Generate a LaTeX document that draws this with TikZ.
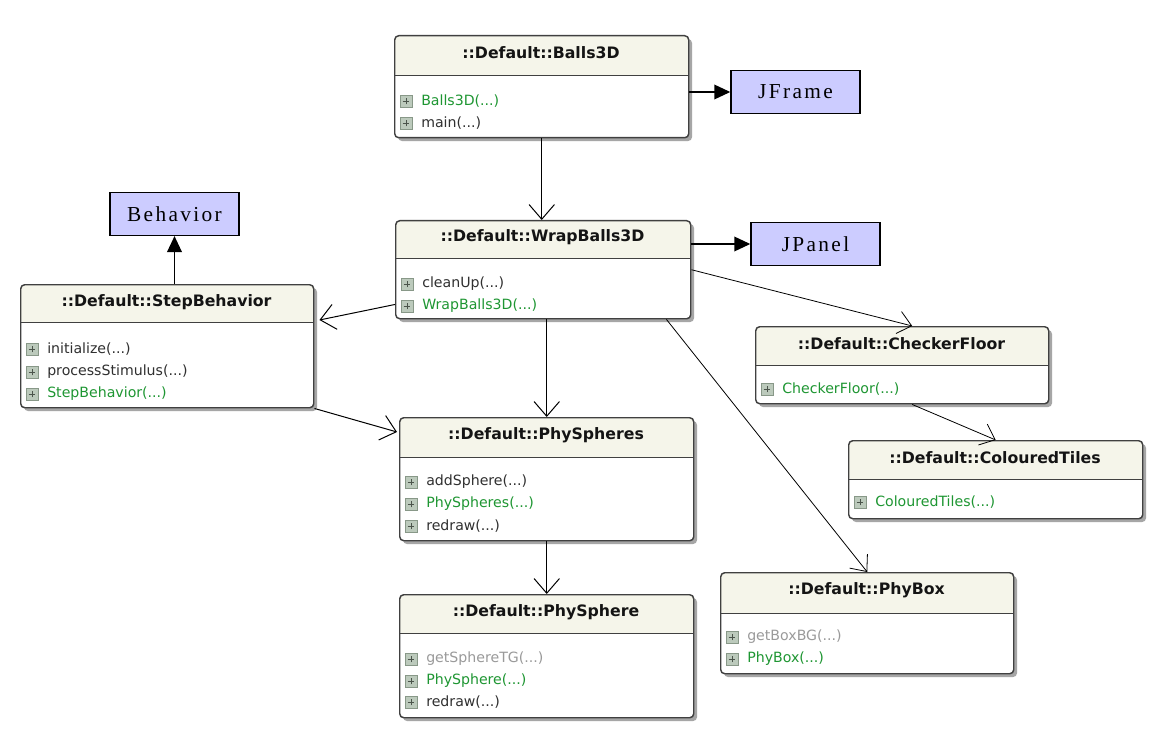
\documentclass[tikz,border=0pt]{standalone}
\usepackage{fontspec}
\setmainfont{Liberation Serif}
\newfontfamily\umlfont{DejaVu Sans}
\usetikzlibrary{arrows.meta,shadows,calc}

\definecolor{cream}{HTML}{F5F5EA}
\definecolor{boxline}{HTML}{404040}
\definecolor{okgreen}{RGB}{30,150,50}
\definecolor{memgray}{HTML}{303030}
\definecolor{dimgray}{HTML}{9A9A9A}
\definecolor{lav}{HTML}{CCCCFF}
\definecolor{iconfill}{HTML}{BCCABC}
\definecolor{iconline}{HTML}{889888}

\newcommand\umlbox[6]{%
  \pgfmathsetmacro\bw{(#4-#2)*0.75}%
  \pgfmathsetmacro\bh{(#5-#3)*0.75}%
  \pgfmathsetmacro\hh{(#6-#3)*0.75}%
  \node[umlclass, minimum width=\bw pt, minimum height=\bh pt,
    path picture={\fill[cream] (path picture bounding box.north west) rectangle ([yshift=-\hh pt]path picture bounding box.north east);
      \draw[boxline, line width=1.1pt] ([yshift=-\hh pt]path picture bounding box.north west) -- ([yshift=-\hh pt]path picture bounding box.north east);}
  ] (#1) at (#2,#3) {};
}
\newcommand\member[5]{%
  \node[icon] (#1i) at (#2+12,#3) {};
  \node[member, text=#4, anchor=west] (#1) at (#2+27,#3) {#5};
}

\begin{document}
\begin{tikzpicture}[x=0.75pt,y=-0.75pt,
  umlclass/.style={draw=boxline, line width=1.1pt, fill=white, rounded corners=3pt,
    anchor=north west, inner sep=0pt,
    drop shadow={shadow xshift=2.5pt, shadow yshift=-2.5pt, fill=black!35, opacity=1}},
  ctitle/.style={font=\umlfont\bfseries\fontsize{11.8}{13}\selectfont, text=black!92, inner sep=0pt},
  member/.style={font=\umlfont\fontsize{10.6}{12}\selectfont, inner sep=0pt},
  icon/.style={draw=iconline, fill=iconfill, minimum size=9pt, inner sep=0pt, line width=0.7pt,
    path picture={\draw[iconline!55!black, line width=0.7pt]
      ([xshift=-2.6pt]path picture bounding box.center) -- ([xshift=2.6pt]path picture bounding box.center)
      ([yshift=-2.6pt]path picture bounding box.center) -- ([yshift=2.6pt]path picture bounding box.center);}},
  ext/.style={draw=black, fill=lav, line width=1.1pt, minimum width=96.75pt, minimum height=32pt,
    inner sep=0pt, font=\fontsize{16}{18}\selectfont\addfontfeature{LetterSpace=11}},
  dep/.style={draw=black, line width=0.75pt, -{Straight Barb[length=11pt,width=19pt]}},
  thin/.style={draw=black, line width=0.6pt, -{Straight Barb[length=10pt,width=17pt]}},
  gen/.style={draw=black, line width=1.1pt, -{Triangle[length=12pt,width=11pt]}}
]
\fill[white] (0,0) rectangle (1157,738);

% classes
\umlbox{balls}{394}{35}{688}{137}{75}
\node[ctitle] (ballsT) at (541,53) {::Default::Balls3D};
\member{ballsA}{394}{101}{okgreen}{Balls3D(...)}
\member{ballsB}{394}{123}{memgray}{main(...)}

\umlbox{wrap}{395}{220}{690}{318}{258}
\node[ctitle] (wrapT) at (542.5,237) {::Default::WrapBalls3D};
\member{wrapA}{395}{284}{memgray}{cleanUp(...)}
\member{wrapB}{395}{306}{okgreen}{WrapBalls3D(...)}

\umlbox{step}{20}{284}{313}{407}{322}
\node[ctitle] (stepT) at (166.5,302) {::Default::StepBehavior};
\member{stepA}{20}{349}{memgray}{initialize(...)}
\member{stepB}{20}{372}{memgray}{processStimulus(...)}
\member{stepC}{20}{394}{okgreen}{StepBehavior(...)}

\umlbox{spheres}{399}{417}{693}{540}{457}
\node[ctitle] (spheresT) at (546,435) {::Default::PhySpheres};
\member{spheresA}{399}{482}{memgray}{addSphere(...)}
\member{spheresB}{399}{504}{okgreen}{PhySpheres(...)}
\member{spheresC}{399}{526}{memgray}{redraw(...)}

\umlbox{sphere}{399}{594}{693}{717}{633}
\node[ctitle] (sphereT) at (546,612) {::Default::PhySphere};
\member{sphereA}{399}{659}{dimgray}{getSphereTG(...)}
\member{sphereB}{399}{681}{okgreen}{PhySphere(...)}
\member{sphereC}{399}{702}{memgray}{redraw(...)}

\umlbox{phybox}{720}{572}{1013}{673}{613}
\node[ctitle] (phyboxT) at (866.5,590) {::Default::PhyBox};
\member{phyboxA}{720}{637}{dimgray}{getBoxBG(...)}
\member{phyboxB}{720}{659}{okgreen}{PhyBox(...)}

\umlbox{checker}{755}{326}{1048}{403}{365}
\node[ctitle] (checkerT) at (901.5,344) {::Default::CheckerFloor};
\member{checkerA}{755}{389}{okgreen}{CheckerFloor(...)}

\umlbox{tiles}{848}{440}{1142}{518}{479}
\node[ctitle] (tilesT) at (995,458) {::Default::ColouredTiles};
\member{tilesA}{848}{502}{okgreen}{ColouredTiles(...)}

% external classes
\node[ext] (behavior) at (174.5,214) {Behavior};
\node[ext] (jframe) at (795.5,92) {JFrame};
\node[ext] (jpanel) at (815.5,244) {JPanel};

% connectors
\draw[gen] (balls.east |- jframe) -- (jframe.west);
\draw[gen] (wrap.east |- jpanel) -- (jpanel.west);
\draw[gen] (step.north -| behavior) -- (behavior.south);
\draw[dep] (balls.south) -- (balls.south |- wrap.north);
\draw[dep] ($(wrap.south west)+(0,-15)$) -- ($(step.north east)+(5,36)$);
\draw[dep] (wrap.south -| spheres.north) -- (spheres.north);
\draw[dep] (step.south east) -- ($(spheres.north west)+(-2,15)$);
\draw[thin] (wrap.east) -- ($(checker.north)+(10,0)$);
\draw[thin] ($(wrap.south east)+(-25,0)$) -- (phybox.north);
\draw[thin] ($(checker.south)+(10,0)$) -- (tiles.north);
\draw[dep] (spheres.south) -- (sphere.north);
\end{tikzpicture}
\end{document}
